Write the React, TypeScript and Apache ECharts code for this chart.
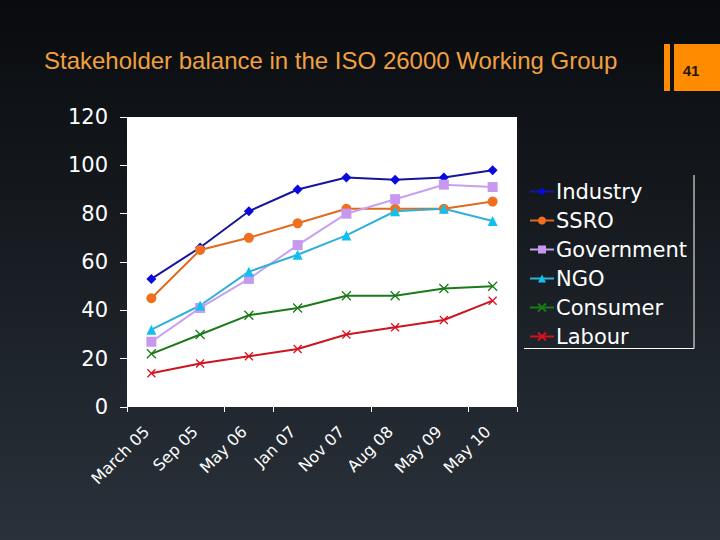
import React, { useEffect, useRef } from "react";
import * as echarts from "echarts";

const categories = ["March 05", "Sep 05", "May 06", "Jan 07", "Nov 07", "Aug 08", "May 09", "May 10"];
const industry = [53, 66, 81, 90, 95, 94, 95, 98];
const ssro = [45, 65, 70, 76, 82, 82, 82, 85];
const government = [27, 41, 53, 67, 80, 86, 92, 91];
const ngo = [32, 42, 56, 63, 71, 81, 82, 77];
const consumer = [22, 30, 38, 41, 46, 46, 49, 50];
const labour = [14, 18, 21, 24, 30, 33, 36, 44];
const yTicks = [0, 20, 40, 60, 80, 100, 120];

const X_PATH = "path://M0,0 L10,10 M10,0 L0,10";

export default function App() {
  const ref = useRef<HTMLDivElement>(null);
  useEffect(() => {
    const chart = echarts.init(ref.current!, undefined, { renderer: "svg" });
    const mk = (name: string, data: number[], line: string, mark: string, symbol: string, size: number, stroke = false) => ({
      name,
      type: "line",
      data,
      symbol,
      symbolSize: size,
      lineStyle: { color: line, width: 2 },
      itemStyle: stroke
        ? { color: mark, borderColor: mark, borderWidth: 1.3 }
        : { color: mark, borderWidth: 0 },
    });
    chart.setOption({
      animation: false,
      backgroundColor: new echarts.graphic.LinearGradient(0, 0, 0, 1, [
        { offset: 0, color: "#090b0e" },
        { offset: 1, color: "#29313a" },
      ]),
      title: {
        text: "Stakeholder balance in the ISO 26000 Working Group",
        left: 44,
        top: 48,
        padding: 0,
        textStyle: { color: "#f0a040", fontSize: 24, fontWeight: "normal", fontFamily: "Liberation Sans, Arial, sans-serif" },
      },
      grid: {
        left: 127,
        right: 203,
        top: 117,
        bottom: 133,
        show: true,
        backgroundColor: "#ffffff",
        borderWidth: 0,
      },
      legend: {
        orient: "vertical",
        left: 524,
        top: 176,
        itemWidth: 24,
        itemHeight: 10,
        itemGap: 8,
        textStyle: { color: "#ffffff", fontSize: 21, fontFamily: "DejaVu Sans, Verdana, sans-serif", padding: [0, 0, 0, -3] },
        data: ["Industry", "SSRO", "Government", "NGO", "Consumer", "Labour"],
      },
      xAxis: {
        type: "category",
        data: categories,
        boundaryGap: true,
        axisLine: { show: false },
        axisTick: {
          show: true,
          length: 5,
          lineStyle: { color: "#ffffff" },
          interval: (i: number) => [0, 2, 3, 5, 7].includes(i),
        },
        axisLabel: {
          rotate: 45,
          interval: 0,
          color: "#ffffff",
          fontSize: 16,
          fontFamily: "DejaVu Sans, Verdana, sans-serif",
          margin: 17,
          padding: [0, 7, 0, 0],
        },
      },
      yAxis: {
        type: "value",
        min: yTicks[0],
        max: yTicks[yTicks.length - 1],
        interval: 20,
        splitLine: { show: false },
        axisLine: { show: false },
        axisTick: { show: true, length: 7, lineStyle: { color: "#ffffff" } },
        axisLabel: {
          color: "#ffffff",
          fontSize: 21,
          fontFamily: "DejaVu Sans, Verdana, sans-serif",
          margin: 19,
        },
      },
      series: [
        mk("Industry", industry, "#16169a", "#0a0ae0", "diamond", 10),
        mk("SSRO", ssro, "#e06a20", "#f07020", "circle", 10),
        mk("Government", government, "#c8a0f0", "#c898f0", "rect", 10),
        mk("NGO", ngo, "#30b0d8", "#10c0f0", "triangle", 10),
        mk("Consumer", consumer, "#1a7a1a", "#1a7a1a", X_PATH, 9, true),
        mk("Labour", labour, "#cc1520", "#dd1020", X_PATH, 8, true),
      ],
      graphic: [
        {
          type: "polyline",
          shape: { points: [[694, 175], [694, 348.5], [524, 348.5]] },
          style: { stroke: "#ffffff", lineWidth: 1, fill: "none" },
        },
        { type: "rect", shape: { x: 664, y: 44, width: 6, height: 47 }, style: { fill: "#ff8c00" } },
        { type: "rect", shape: { x: 674, y: 44, width: 46, height: 47 }, style: { fill: "#ff8c00" } },
        {
          type: "text",
          x: 691,
          y: 70,
          style: {
            text: "41",
            fill: "#2a1608",
            fontSize: 15,
            fontWeight: "bold",
            fontFamily: "Liberation Sans, Arial, sans-serif",
            align: "center",
            verticalAlign: "middle",
          },
        },
      ],
    });
    return () => chart.dispose();
  }, []);
  return <div ref={ref} style={{ position: "absolute", left: 0, top: 0, width: 720, height: 540 }} />;
}
